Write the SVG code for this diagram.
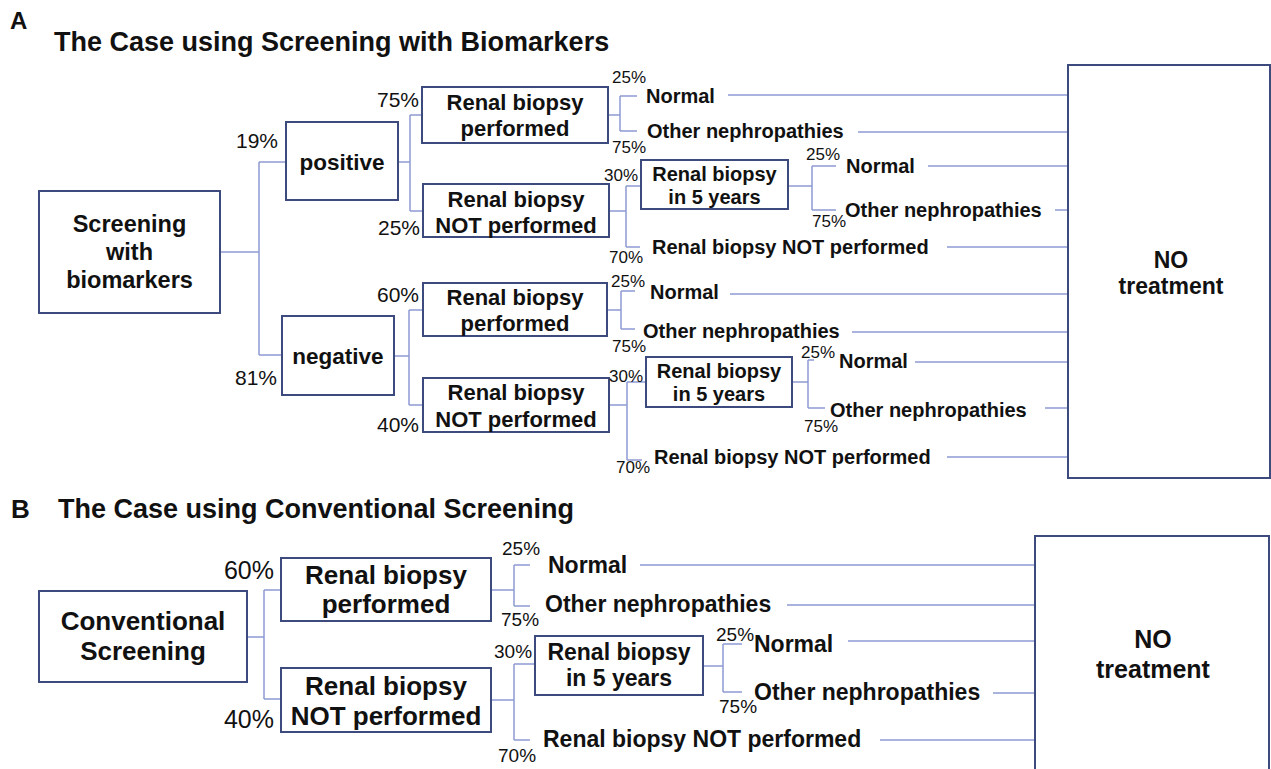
<svg xmlns="http://www.w3.org/2000/svg" width="1271" height="769" viewBox="0 0 1271 769">
<style>
text{font-family:"Liberation Sans",Arial,sans-serif;fill:#111}
.b{font-weight:bold}
.m{text-anchor:middle}
.e{text-anchor:end}
.box{fill:#fff;stroke:#3d4a7e;stroke-width:2}
.c{fill:none;stroke:#8f9bd4;stroke-width:1.5}
.ttl{font-size:27px;font-weight:bold}
.pa{font-size:21px}
.ps{font-size:17px}
.la{font-size:20px;font-weight:bold}
.pb{font-size:25px}
.psb{font-size:19px}
.lb{font-size:23px;font-weight:bold}
</style>
<rect width="1271" height="769" fill="#fff"/>
<text x="10" y="29" class="b" font-size="24">A</text>
<text x="54" y="51" class="ttl">The Case using Screening with Biomarkers</text>
<text x="11" y="518" class="b" font-size="26">B</text>
<text x="58" y="518" class="ttl">The Case using Conventional Screening</text>

<g id="connectors">
<!-- Panel A -->
<path class="c" d="M220 252H259M259 162V355M259 162H286M259 355H282"/>
<path class="c" d="M398 162H410M410 115V211M410 115H422M410 211H423"/>
<path class="c" d="M608 115H620M620 96V131M620 96H637M620 131H637"/>
<path class="c" d="M728 95H1068M858 132H1068"/>
<path class="c" d="M609 211H626M626 186V247M626 186H641M626 247H640"/>
<path class="c" d="M788 186H812M812 166V210M812 166H836M812 210H836"/>
<path class="c" d="M928 166H1068M1055 210H1068M947 247H1068"/>
<path class="c" d="M394 356H409M409 310V405M409 310H423M409 405H423"/>
<path class="c" d="M607 310H621M621 291V329M621 291H635M621 329H635"/>
<path class="c" d="M730 294H1068M852 332H1068"/>
<path class="c" d="M609 405H627M627 382V460M627 382H646M627 460H642"/>
<path class="c" d="M792 382H808M808 360V408M808 360H814M808 408H825"/>
<path class="c" d="M915 362H1068M1045 408H1068M947 457H1068"/>
<!-- Panel B -->
<path class="c" d="M247 637H264M264 590V699M264 590H281M264 699H281"/>
<path class="c" d="M491 590H514M514 565V606M514 565H530M514 606H530"/>
<path class="c" d="M640 565H1035M787 605H1035"/>
<path class="c" d="M491 700H514M514 664V740M514 664H535M514 740H530"/>
<path class="c" d="M703 666H723M723 644V692M723 644H742M723 692H742"/>
<path class="c" d="M848 641H1035M993 693H1035M880 740H1035"/>
</g>

<!-- Panel A nodes -->
<g id="a-screening">
<rect class="box" x="39" y="191" width="181" height="122"/>
<text x="129.5" y="232" class="m b" font-size="23.5">Screening</text>
<text x="129.5" y="260" class="m b" font-size="23.5">with</text>
<text x="129.5" y="288" class="m b" font-size="23.5">biomarkers</text>
</g>
<g id="a-positive">
<rect class="box" x="286" y="122" width="112" height="78"/>
<text x="342" y="170" class="m b" font-size="22.5">positive</text>
<text x="278" y="148" class="e pa">19%</text>
</g>
<g id="a-negative">
<rect class="box" x="282" y="316" width="112" height="79"/>
<text x="338" y="364" class="m b" font-size="22.5">negative</text>
<text x="277" y="385" class="e pa">81%</text>
</g>
<g id="a-pos-performed">
<rect class="box" x="422" y="87" width="186" height="56"/>
<text x="515" y="110" class="m b" font-size="22">Renal biopsy</text>
<text x="515" y="136" class="m b" font-size="22">performed</text>
<text x="419" y="107" class="e pa">75%</text>
<text x="612" y="83" class="ps">25%</text>
<text x="646" y="103" class="la">Normal</text>
<text x="647" y="138" class="la">Other nephropathies</text>
<text x="612" y="153" class="ps">75%</text>
</g>
<g id="a-pos-notperformed">
<rect class="box" x="423" y="184" width="186" height="53"/>
<text x="516" y="207" class="m b" font-size="22">Renal biopsy</text>
<text x="516" y="233" class="m b" font-size="22">NOT performed</text>
<text x="420" y="235" class="e pa">25%</text>
<text x="604" y="181" class="ps">30%</text>
<text x="609" y="263" class="ps">70%</text>
<text x="652" y="254" class="la">Renal biopsy NOT performed</text>
</g>
<g id="a-pos-5years">
<rect class="box" x="641" y="160" width="147" height="49"/>
<text x="714.5" y="181" class="m la">Renal biopsy</text>
<text x="714.5" y="204" class="m la">in 5 years</text>
<text x="806" y="160" class="ps">25%</text>
<text x="846" y="173" class="la">Normal</text>
<text x="845" y="217" class="la">Other nephropathies</text>
<text x="812" y="227" class="ps">75%</text>
</g>
<g id="a-neg-performed">
<rect class="box" x="423" y="283" width="184" height="53"/>
<text x="515" y="305" class="m b" font-size="22">Renal biopsy</text>
<text x="515" y="331" class="m b" font-size="22">performed</text>
<text x="419" y="302" class="e pa">60%</text>
<text x="611" y="287" class="ps">25%</text>
<text x="650" y="299" class="la">Normal</text>
<text x="643" y="338" class="la">Other nephropathies</text>
<text x="612" y="352" class="ps">75%</text>
</g>
<g id="a-neg-notperformed">
<rect class="box" x="423" y="378" width="186" height="54"/>
<text x="516" y="400" class="m b" font-size="22">Renal biopsy</text>
<text x="516" y="427" class="m b" font-size="22">NOT performed</text>
<text x="419" y="432" class="e pa">40%</text>
<text x="609" y="382" class="ps">30%</text>
<text x="616" y="473" class="ps">70%</text>
<text x="654" y="464" class="la">Renal biopsy NOT performed</text>
</g>
<g id="a-neg-5years">
<rect class="box" x="646" y="357" width="146" height="50"/>
<text x="719" y="378" class="m la">Renal biopsy</text>
<text x="719" y="401" class="m la">in 5 years</text>
<text x="801" y="358" class="ps">25%</text>
<text x="839" y="368" class="la">Normal</text>
<text x="830" y="417" class="la">Other nephropathies</text>
<text x="804" y="432" class="ps">75%</text>
</g>
<g id="a-notreatment">
<rect class="box" x="1068" y="65" width="202" height="413"/>
<text x="1171" y="268" class="m b" font-size="23">NO</text>
<text x="1171" y="294" class="m b" font-size="23">treatment</text>
</g>

<!-- Panel B nodes -->
<g id="b-conventional">
<rect class="box" x="39" y="591" width="208" height="91"/>
<text x="143" y="630" class="m b" font-size="26">Conventional</text>
<text x="143" y="660" class="m b" font-size="26">Screening</text>
</g>
<g id="b-performed">
<rect class="box" x="281" y="558" width="210" height="63"/>
<text x="386" y="584" class="m b" font-size="26">Renal biopsy</text>
<text x="386" y="613" class="m b" font-size="26">performed</text>
<text x="274" y="579" class="e pb">60%</text>
<text x="502" y="555" class="psb">25%</text>
<text x="548" y="573" class="lb">Normal</text>
<text x="545" y="612" class="lb">Other nephropathies</text>
<text x="501" y="626" class="psb">75%</text>
</g>
<g id="b-notperformed">
<rect class="box" x="281" y="668" width="210" height="64"/>
<text x="386" y="695" class="m b" font-size="26">Renal biopsy</text>
<text x="386" y="725" class="m b" font-size="26">NOT performed</text>
<text x="274" y="728" class="e pb">40%</text>
<text x="494" y="658" class="psb">30%</text>
<text x="498" y="762" class="psb">70%</text>
<text x="543" y="747" class="lb">Renal biopsy NOT performed</text>
</g>
<g id="b-5years">
<rect class="box" x="535" y="636" width="168" height="59"/>
<text x="619" y="660" class="m lb">Renal biopsy</text>
<text x="619" y="686" class="m lb">in 5 years</text>
<text x="716" y="641" class="psb">25%</text>
<text x="754" y="652" class="lb">Normal</text>
<text x="754" y="700" class="lb">Other nephropathies</text>
<text x="719" y="713" class="psb">75%</text>
</g>
<g id="b-notreatment">
<rect class="box" x="1035" y="536" width="234" height="240"/>
<text x="1153" y="648" class="m b" font-size="25">NO</text>
<text x="1153" y="678" class="m b" font-size="25">treatment</text>
</g>
</svg>
